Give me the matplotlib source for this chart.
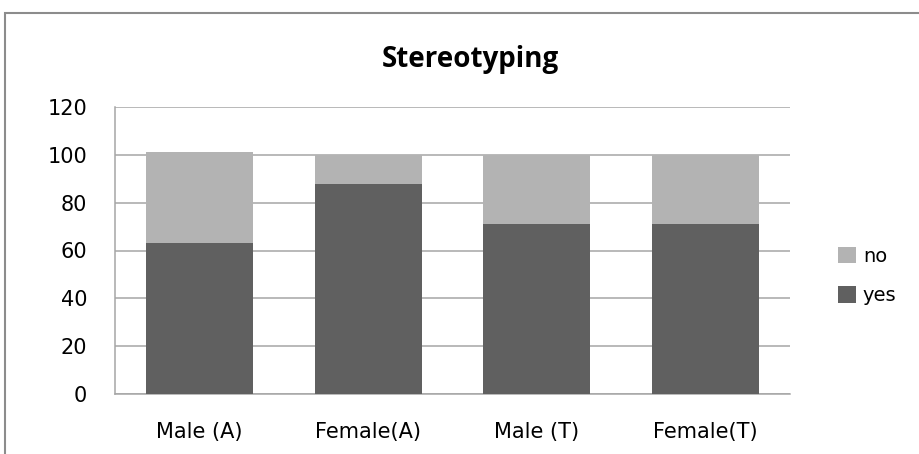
import matplotlib.pyplot as plt
from matplotlib.patches import Rectangle, Patch

categories = ["Male (A)", "Female(A)", "Male (T)", "Female(T)"]
yes_vals = [63, 88, 71, 71]
no_vals = [38, 12, 29, 29]
yticks = [0, 20, 40, 60, 80, 100, 120]

YES_COLOR = "#606060"
NO_COLOR = "#b3b3b3"
GRID_COLOR = "#a6a6a6"

fig = plt.figure(figsize=(9.19, 4.54), dpi=100)
fig.patch.set_facecolor("white")

# outer chart border (extends past right and bottom edges)
fig.patches.append(Rectangle((5 / 919, -0.1), 1.2, 1 - 13 / 454 + 0.1,
                             transform=fig.transFigure, fill=False,
                             edgecolor="#8c8c8c", linewidth=1.5))

ax = fig.add_axes([115 / 919, 1 - 394 / 454, (790 - 115) / 919, (394 - 107) / 454])

x = range(len(categories))
ax.bar(x, yes_vals, width=0.635, color=YES_COLOR, zorder=3, label="yes")
ax.bar(x, no_vals, bottom=yes_vals, width=0.635, color=NO_COLOR, zorder=3, label="no")

ax.set_ylim(0, 120)
ax.set_xlim(-0.5, len(categories) - 0.5)
ax.set_yticks(yticks)
ax.set_xticks(list(x))
ax.set_xticklabels(categories)
ax.yaxis.grid(True, color=GRID_COLOR, linewidth=1.1, zorder=0)
ax.set_axisbelow(True)

for side in ["top", "right"]:
    ax.spines[side].set_visible(False)
ax.spines["left"].set_color(GRID_COLOR)
ax.spines["bottom"].set_color(GRID_COLOR)
ax.spines["left"].set_linewidth(1.1)
ax.spines["bottom"].set_linewidth(1.1)
ax.tick_params(axis="both", length=0, labelsize=15, colors="#000000")
ax.tick_params(axis="y", pad=20)
ax.tick_params(axis="x", pad=20)

fig.text(470 / 919, 1 - 60 / 454, "Stereotyping", ha="center", va="center",
         fontsize=20, fontweight="bold", family="Open Sans")

handles = [Patch(facecolor=NO_COLOR, label="no"), Patch(facecolor=YES_COLOR, label="yes")]
fig.legend(handles=handles, loc="center left", bbox_to_anchor=(820 / 919, 1 - 276 / 454),
           frameon=False, fontsize=14, handlelength=0.95, handleheight=0.95,
           handletextpad=0.35, labelspacing=1.05)

fig.savefig("out.png", dpi=100, facecolor="white")
